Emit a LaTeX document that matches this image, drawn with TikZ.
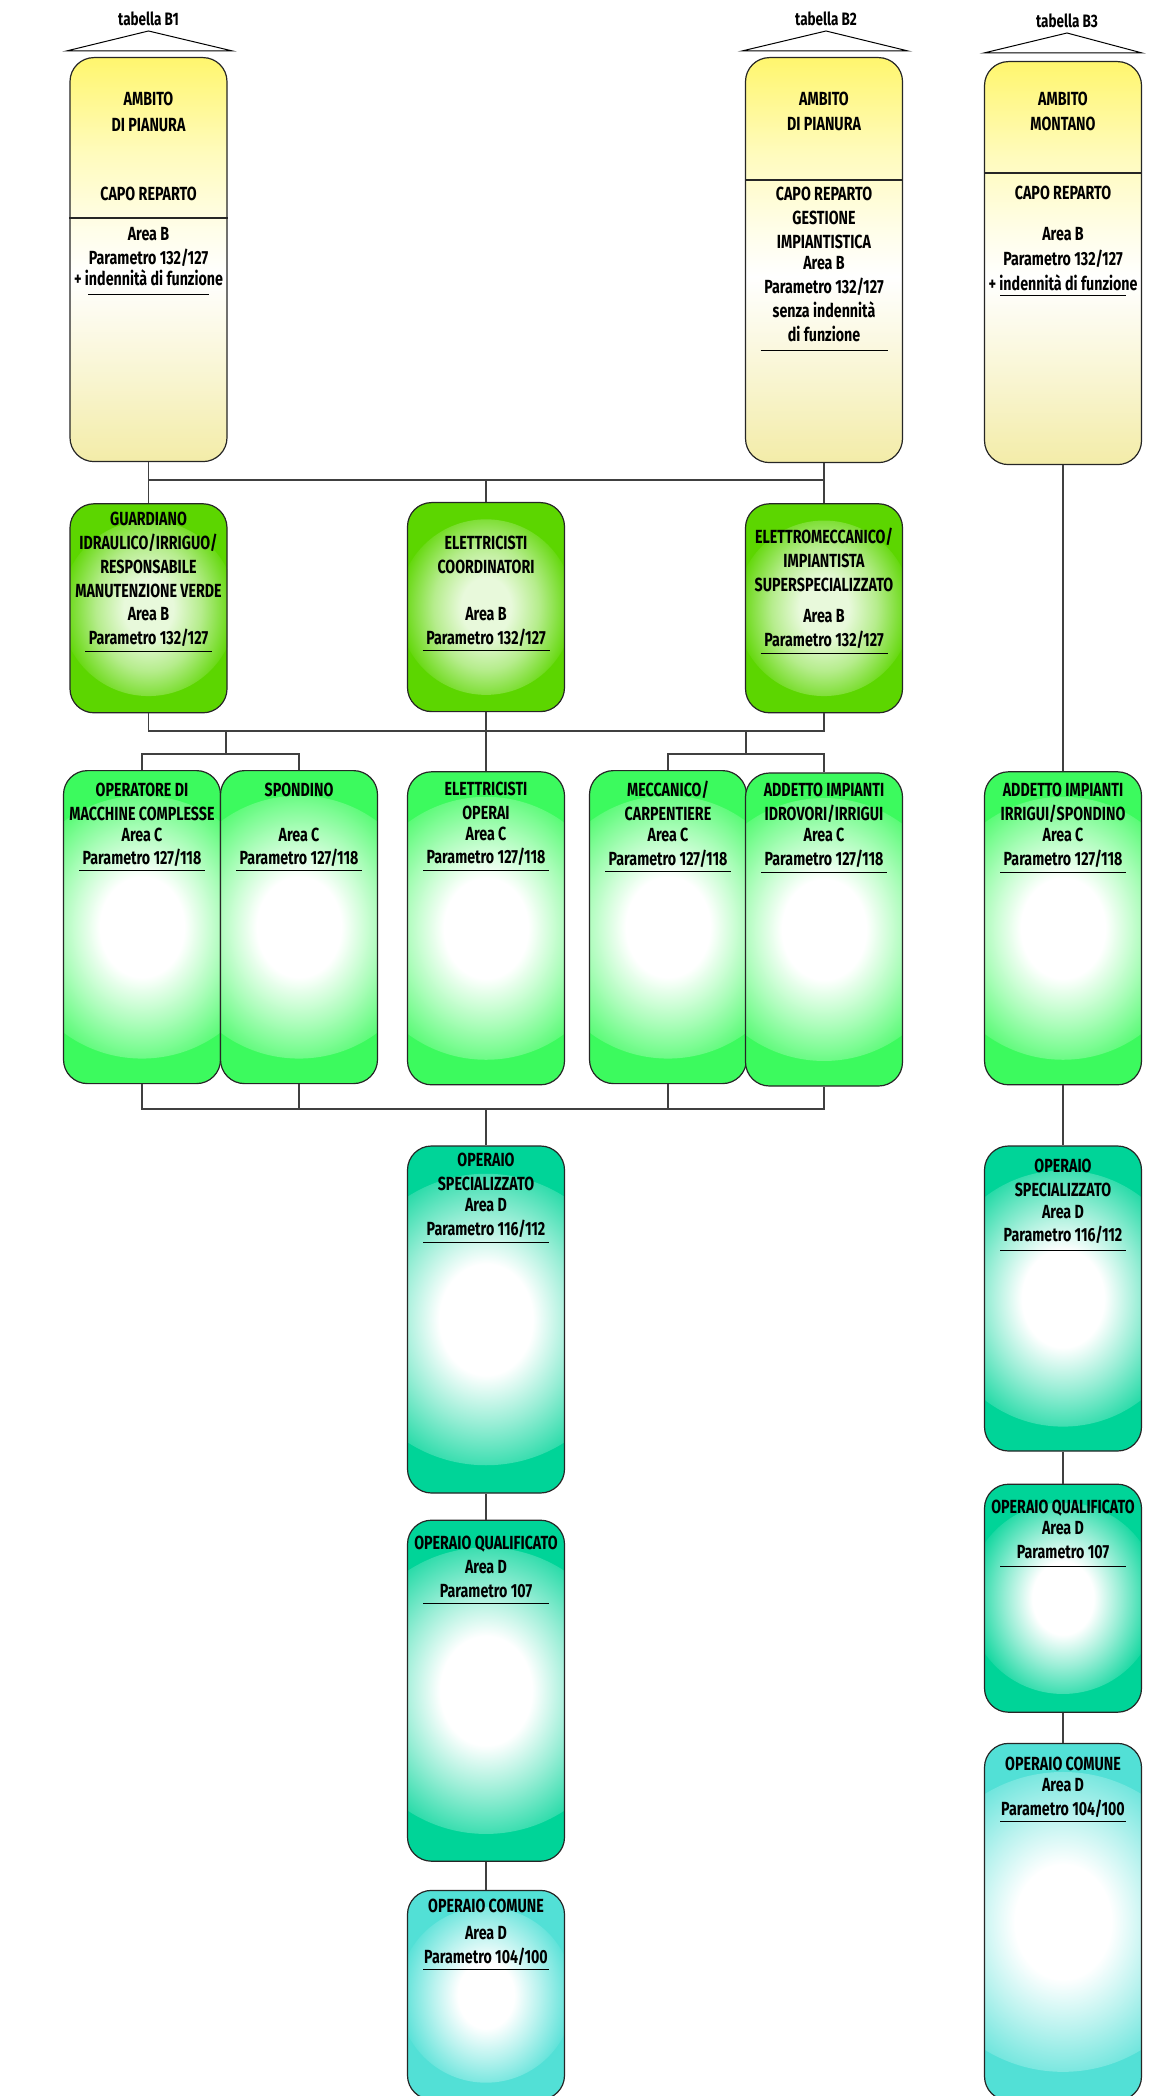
\documentclass[tikz,border=0pt]{standalone}
\usepackage{fontspec}
\newfontfamily\dinfont{Fira Sans}[FakeStretch=0.75]
\usepackage{tikz}
\usetikzlibrary{positioning,calc}

\definecolor{ylw}{RGB}{255,246,110}
\definecolor{ylwbot}{RGB}{243,236,168}
\colorlet{ylwpale}{ylw!16!white}
\colorlet{ylwmid}{ylw!45!white}
\colorlet{ylwbotmid}{ylwbot!55!white}
\definecolor{grnB}{RGB}{92,214,0}
\colorlet{grnBin}{grnB!14!white}
\colorlet{grnBmid}{grnB!45!white}
\definecolor{grnC}{RGB}{60,250,94}
\colorlet{grnCmid}{grnC!40!white}
\definecolor{tealD}{RGB}{0,212,152}
\colorlet{tealDmid}{tealD!40!white}
\definecolor{cyanD}{RGB}{82,224,214}
\colorlet{cyanDmid}{cyanD!40!white}

\pgfdeclareverticalshading{glowY}{100bp}{color(0bp)=(ylwbot); color(25bp)=(ylwbot); color(35bp)=(ylwbotmid); color(48bp)=(white); color(54bp)=(ylwpale); color(63bp)=(ylwmid); color(75bp)=(ylw); color(100bp)=(ylw)}
\pgfdeclareradialshading{glowB}{\pgfpoint{0bp}{0bp}}{color(0bp)=(grnBin); color(7bp)=(grnBin); color(15bp)=(grnBmid); color(25bp)=(grnB); color(50bp)=(grnB)}
\pgfdeclareradialshading{glowC}{\pgfpoint{0bp}{0bp}}{color(0bp)=(white); color(8bp)=(white); color(15bp)=(grnCmid); color(25bp)=(grnC); color(50bp)=(grnC)}
\pgfdeclareradialshading{glowD}{\pgfpoint{0bp}{0bp}}{color(0bp)=(white); color(8bp)=(white); color(15bp)=(tealDmid); color(25bp)=(tealD); color(50bp)=(tealD)}
\pgfdeclareradialshading{glowE}{\pgfpoint{0bp}{0bp}}{color(0bp)=(white); color(8bp)=(white); color(15bp)=(cyanDmid); color(25bp)=(cyanD); color(50bp)=(cyanD)}

\tikzset{box/.style={draw=black!85,line width=0.6pt,rounded corners=12pt,minimum width=78.5pt,inner sep=0pt,anchor=north}}
\tikzset{glow/.style 2 args={box,fill=#2,path picture={
            \shade[shading=#1] let \p1=(path picture bounding box.north),\p2=(path picture bounding box.south)
                in (path picture bounding box.center) circle [radius={0.42*abs(\y1-\y2)}];}}}
\tikzset{capobox/.style={box,shade,shading=glowY},areaB/.style={glow={glowB}{grnB}},areaC/.style={glow={glowC}{grnC}},
         areaD/.style={glow={glowD}{tealD}},comune/.style={glow={glowE}{cyanD}}}
\tikzset{txt/.style={font=\dinfont\bfseries\fontsize{9.5pt}{12pt}\selectfont,align=center,inner sep=0pt},
         tablbl/.style={font=\dinfont\bfseries\fontsize{9pt}{11pt}\selectfont,inner sep=0pt}}
\tikzset{wire/.style={draw=black!75,line width=0.6pt},divider/.style={draw=black!85,line width=0.6pt},
         tabtri/.style={draw=black,line width=0.5pt}}

\begin{document}
\begin{tikzpicture}[x=0.5pt,y=-0.5pt]
        \useasboundingbox (0,0) rectangle (1159,2096);
        \fill[white] (0,0) rectangle (1159,2096);

            \node[capobox,minimum height=202pt]   (B1) at (148.5,57) {};
            \node[capobox,minimum height=202.5pt] (B2) at (824,57)   {};
            \node[capobox,minimum height=201.5pt] (B3) at (1063,61)  {};

            \node[areaB,minimum height=104.5pt] (G1) [below=20.5pt of B1] {};
            \node[areaB,minimum height=104.5pt] (G2) at (486,502)         {};
            \node[areaB,minimum height=104.5pt] (G3) [below=20pt of B2]   {};

            \node[areaC,minimum height=156.5pt] (C1) at (142,770)          {};
            \node[areaC,minimum height=156.5pt] (C2) at (299,770)          {};
            \node[areaC,minimum height=156.5pt] (C3) [below=29.5pt of G2] {};
            \node[areaC,minimum height=156.5pt] (C4) at (668,770)          {};
            \node[areaC,minimum height=156.5pt] (C5) [below=29.5pt of G3] {};
            \node[areaC,minimum height=156.5pt] (C6) [below=153pt of B3]  {};

            \node[areaD,minimum height=173.5pt]  (D1) [below=30pt of C3] {};
            \node[areaD,minimum height=170.5pt]  (D2) [below=13pt of D1] {};
            \node[comune,minimum height=104.5pt] (D3) [below=14pt of D2] {};

            \node[areaD,minimum height=152.5pt]  (E1) [below=30pt of C6] {};
            \node[areaD,minimum height=114pt]    (E2) [below=16pt of E1] {};
            \node[comune,minimum height=178.5pt] (E3) [below=15pt of E2] {};

        \coordinate (busB) at (486,480);
        \coordinate (busC) at (486,731);
        \coordinate (subL) at (226,754);
        \coordinate (subR) at (746,754);
        \coordinate (busD) at (486,1109);
        \path[wire]
                (B1) -- (G1)
                (B2) -- (G3)
                (G1.north |- busB) -- (G3.north |- busB)
                (busB) -- (G2)
                (G1) -- (G1 |- busC) -- (G3 |- busC) -- (G3)
                (G2) -- (C3)
                (subL |- busC) -- (subL)
                (C1) -- (C1 |- subL) -- (C2 |- subL) -- (C2)
                (subR |- busC) -- (subR)
                (C4) -- (C4 |- subR) -- (C5 |- subR) -- (C5)
                (C1) -- (C1 |- busD) -- (C5 |- busD) -- (C5)
                (C2) -- (C2 |- busD)
                (C4) -- (C4 |- busD)
                (busD) -- (D1)
                (D1) -- (D2)
                (D2) -- (D3)
                (B3) -- (C6)
                (C6) -- (E1)
                (E1) -- (E2)
                (E2) -- (E3)
                ;

        \path[divider]
                ([yshift=-80.5pt]B1.north west) -- ([yshift=-80.5pt]B1.north east)
                ([yshift=-61.5pt]B2.north west) -- ([yshift=-61.5pt]B2.north east)
                ([yshift=-56pt]B3.north west) -- ([yshift=-56pt]B3.north east);

        \coordinate[above=13pt of B1.north] (B1tip);
        \coordinate[above=13pt of B2.north,xshift=1pt] (B2tip);
        \coordinate[above=14pt of B3.north,xshift=2pt] (B3tip);
        \draw[tabtri] ([xshift=-1.5pt,yshift=3pt]B1.north west) -- (B1tip) -- ([xshift=2.5pt,yshift=3pt]B1.north east) -- cycle;
        \draw[tabtri] ([xshift=-1.5pt,yshift=3pt]B2.north west) -- (B2tip) -- ([xshift=2.5pt,yshift=3pt]B2.north east) -- cycle;
        \draw[tabtri] ([yshift=4pt]B3.north west) -- (B3tip) -- ([yshift=4pt]B3.north east) -- cycle;
            \node[tablbl,above=2.5pt of B1tip] (B1tab) {tabella B1};
            \node[tablbl,above=2.5pt of B2tip] (B2tab) {tabella B2};
            \node[tablbl,above=2.5pt of B3tip] (B3tab) {tabella B3};

            \node[txt,below=17.25pt of B1.north] (B1up)  {AMBITO\\[1pt]DI PIANURA\\[22.5pt]CAPO REPARTO};
            \node[txt,below=84.75pt of B1.north] (B1low) {Area B\\Parametro 132/127\\[-1.5pt]+ indennità di funzione\\[-7pt]\rule{60.5pt}{0.5pt}};
            \node[txt,below=17.25pt of B2.north] (B2up)  {AMBITO\\[0.5pt]DI PIANURA};
            \node[txt,below=64.75pt of B2.north] (B2low) {CAPO REPARTO\\GESTIONE\\IMPIANTISTICA\\[-1.5pt]Area B\\Parametro 132/127\\senza indennità\\di funzione\\[-7pt]\rule{63.5pt}{0.5pt}};
            \node[txt,below=15.25pt of B3.north] (B3up)  {AMBITO\\[0.5pt]MONTANO};
            \node[txt,below=62.25pt of B3.north] (B3low) {CAPO REPARTO\\[8.5pt]Area B\\[0.5pt]Parametro 132/127\\[0.5pt]+ indennità di funzione\\[-9.25pt]\rule{63pt}{0.5pt}};

            \node[txt,below=4.25pt of G1.north]  (G1t) {GUARDIANO\\IDRAULICO/IRRIGUO/\\RESPONSABILE\\MANUTENZIONE VERDE\\[-0.5pt]Area B\\Parametro 132/127\\[-8.5pt]\rule{63.5pt}{0.5pt}};
            \node[txt,below=16.75pt of G2.north] (G2t) {ELETTRICISTI\\COORDINATORI\\[11.5pt]Area B\\Parametro 132/127\\[-8.5pt]\rule{63.5pt}{0.5pt}};
            \node[txt,below=12.25pt of G3.north] (G3t) {ELETTROMECCANICO/\\IMPIANTISTA\\SUPERSPECIALIZZATO\\[3.5pt]Area B\\Parametro 132/127\\[-8.5pt]\rule{63.5pt}{0.5pt}};

            \node[txt,below=6.25pt of C1.north] (C1t) {OPERATORE DI\\MACCHINE COMPLESSE\\[-1.5pt]Area C\\[-0.5pt]Parametro 127/118\\[-8.5pt]\rule{63pt}{0.5pt}};
            \node[txt,below=6.25pt of C2.north] (C2t) {SPONDINO\\[10.5pt]Area C\\[-0.5pt]Parametro 127/118\\[-8.5pt]\rule{63pt}{0.5pt}};
            \node[txt,below=5.25pt of C3.north] (C3t) {ELETTRICISTI\\OPERAI\\[-1.5pt]Area C\\[-0.5pt]Parametro 127/118\\[-8.5pt]\rule{63pt}{0.5pt}};
            \node[txt,below=5.25pt of C4.north] (C4t) {MECCANICO/\\CARPENTIERE\\[-1.5pt]Area C\\Parametro 127/118\\[-8.5pt]\rule{63pt}{0.5pt}};
            \node[txt,below=5.25pt of C5.north] (C5t) {ADDETTO IMPIANTI\\IDROVORI/IRRIGUI\\[-1.5pt]Area C\\Parametro 127/118\\[-8.5pt]\rule{63pt}{0.5pt}};
            \node[txt,below=5.75pt of C6.north] (C6t) {ADDETTO IMPIANTI\\IRRIGUI/SPONDINO\\[-1.5pt]Area C\\Parametro 127/118\\[-8.5pt]\rule{63pt}{0.5pt}};

            \node[txt,below=3.75pt of D1.north] (D1t) {OPERAIO\\SPECIALIZZATO\\[-1.5pt]Area D\\Parametro 116/112\\[-8.5pt]\rule{63pt}{0.5pt}};
            \node[txt,below=7.75pt of D2.north] (D2t) {OPERAIO QUALIFICATO\\Area D\\Parametro 107\\[-8.5pt]\rule{63pt}{0.5pt}};
            \node[txt,below=4.25pt of D3.north] (D3t) {OPERAIO COMUNE\\[1.5pt]Area D\\Parametro 104/100\\[-8.5pt]\rule{63pt}{0.5pt}};

            \node[txt,below=6.75pt of E1.north] (E1t) {OPERAIO\\SPECIALIZZATO\\[-1pt]Area D\\[-0.5pt]Parametro 116/112\\[-7.5pt]\rule{63pt}{0.5pt}};
            \node[txt,below=7.75pt of E2.north] (E2t) {OPERAIO QUALIFICATO\\[-1.5pt]Area D\\Parametro 107\\[-7.5pt]\rule{63pt}{0.5pt}};
            \node[txt,below=6.75pt of E3.north] (E3t) {OPERAIO COMUNE\\[-1.5pt]Area D\\Parametro 104/100\\[-8.5pt]\rule{63pt}{0.5pt}};
\end{tikzpicture}
\end{document}
